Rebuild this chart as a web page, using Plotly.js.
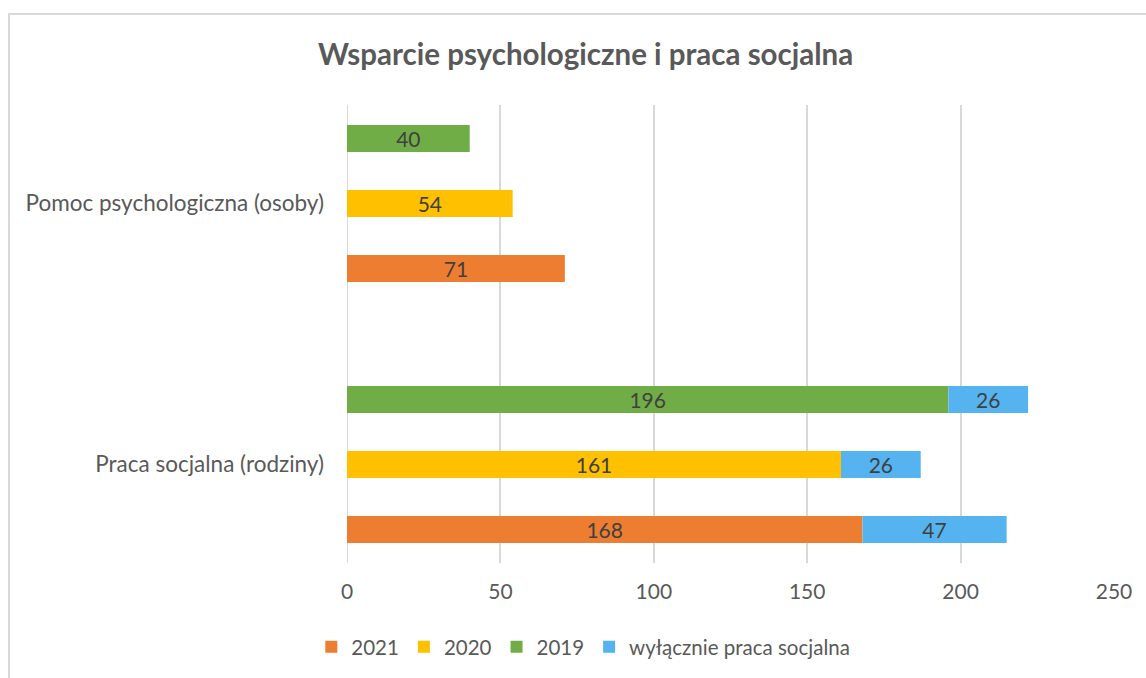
<!DOCTYPE html>
<html>
<head>
<meta charset="utf-8">
<script src="https://cdn.plot.ly/plotly-3.0.1.min.js"></script>
<style>
  html, body { margin: 0; padding: 0; background: #fff; }
  #wrap { position: relative; width: 1146px; height: 678px; }
  #frame { position: absolute; left: 8px; top: 13px; right: 0; bottom: 0; border-left: 2px solid #d9d9d9; border-top: 2px solid #d9d9d9; pointer-events: none; }
  #chart { position: absolute; left: 0; top: 0; width: 1146px; height: 678px; }
</style>
</head>
<body>
<div id="wrap">
  <div id="chart"></div>
  <div id="frame"></div>
</div>
<script>
const categories = ['Praca socjalna (rodziny)', 'Pomoc psychologiczna (osoby)'];
const v2021 = [168, 71];
const v2020 = [161, 54];
const v2019 = [196, 40];
const onlySocial2021 = [47, null];
const onlySocial2020 = [26, null];
const onlySocial2019 = [26, null];

const colors = { y2021: '#ED7D31', y2020: '#FFC000', y2019: '#70AD47', only: '#55B3EF' };
const labelFont = { family: 'Lato, "Open Sans", sans-serif', size: 21, color: '#404040' };

function yearTrace(name, vals, color, group) {
  return {
    type: 'bar', orientation: 'h', name: name, y: categories, x: vals,
    offsetgroup: group, marker: { color: color },
    text: vals.map(v => v == null ? '' : String(v)),
    textposition: 'inside', insidetextanchor: 'middle', textangle: 0,
    constraintext: 'none', textfont: labelFont, hoverinfo: 'skip'
  };
}
function onlyTrace(vals, baseVals, group, show) {
  return {
    type: 'bar', orientation: 'h', name: 'wyłącznie praca socjalna', y: categories, x: vals,
    base: baseVals, offsetgroup: group, legendgroup: 'only', showlegend: show,
    marker: { color: colors.only },
    text: vals.map(v => v == null ? '' : String(v)),
    textposition: 'inside', insidetextanchor: 'middle', textangle: 0,
    constraintext: 'none', textfont: labelFont, hoverinfo: 'skip'
  };
}

const data = [
  yearTrace('2021', v2021, colors.y2021, 'a'),
  yearTrace('2020', v2020, colors.y2020, 'b'),
  yearTrace('2019', v2019, colors.y2019, 'c'),
  onlyTrace(onlySocial2021, v2021, 'a', true),
  onlyTrace(onlySocial2020, v2020, 'b', false),
  onlyTrace(onlySocial2019, v2019, 'c', false)
];

const layout = {
  width: 1146, height: 678,
  margin: { l: 347, r: 32, t: 105, b: 115 },
  paper_bgcolor: '#fff', plot_bgcolor: '#fff',
  font: { family: 'Lato, "Open Sans", sans-serif', color: '#595959' },
  title: {
    text: '<b>Wsparcie psychologiczne i praca socjalna</b>',
    font: { size: 29.5, color: '#595959', family: 'Lato, "Open Sans", sans-serif' },
    xref: 'container', x: 0.511, xanchor: 'center',
    yref: 'container', y: 0.919, yanchor: 'middle'
  },
  barmode: 'group',
  bargap: 0.253,
  bargroupgap: 0.585,
  xaxis: {
    range: [0, 250], dtick: 50, showgrid: true, gridcolor: '#d9d9d9', gridwidth: 2,
    zeroline: false, showline: false, ticks: '', ticklabelstandoff: 14,
    tickfont: { size: 21, color: '#595959' }, fixedrange: true
  },
  yaxis: {
    type: 'category', range: [-0.3775, 1.3775], showgrid: false, zeroline: false,
    showline: false, ticks: '', ticklabelstandoff: 22,
    tickfont: { size: 22.5, color: '#595959' }, fixedrange: true
  },
  shapes: [{
    type: 'line', xref: 'x', yref: 'paper', x0: 0, x1: 0, y0: 0, y1: 1,
    line: { color: '#d9d9d9', width: 2 }, layer: 'below'
  }],
  legend: {
    orientation: 'h', xref: 'container', yref: 'container',
    x: 0.509, xanchor: 'center', y: 0.046, yanchor: 'middle',
    font: { size: 20.5, color: '#595959' }, traceorder: 'normal',
    itemwidth: 30
  },
  showlegend: true
};

Plotly.newPlot('chart', data, layout, { displayModeBar: false, staticPlot: true });
</script>
</body>
</html>
